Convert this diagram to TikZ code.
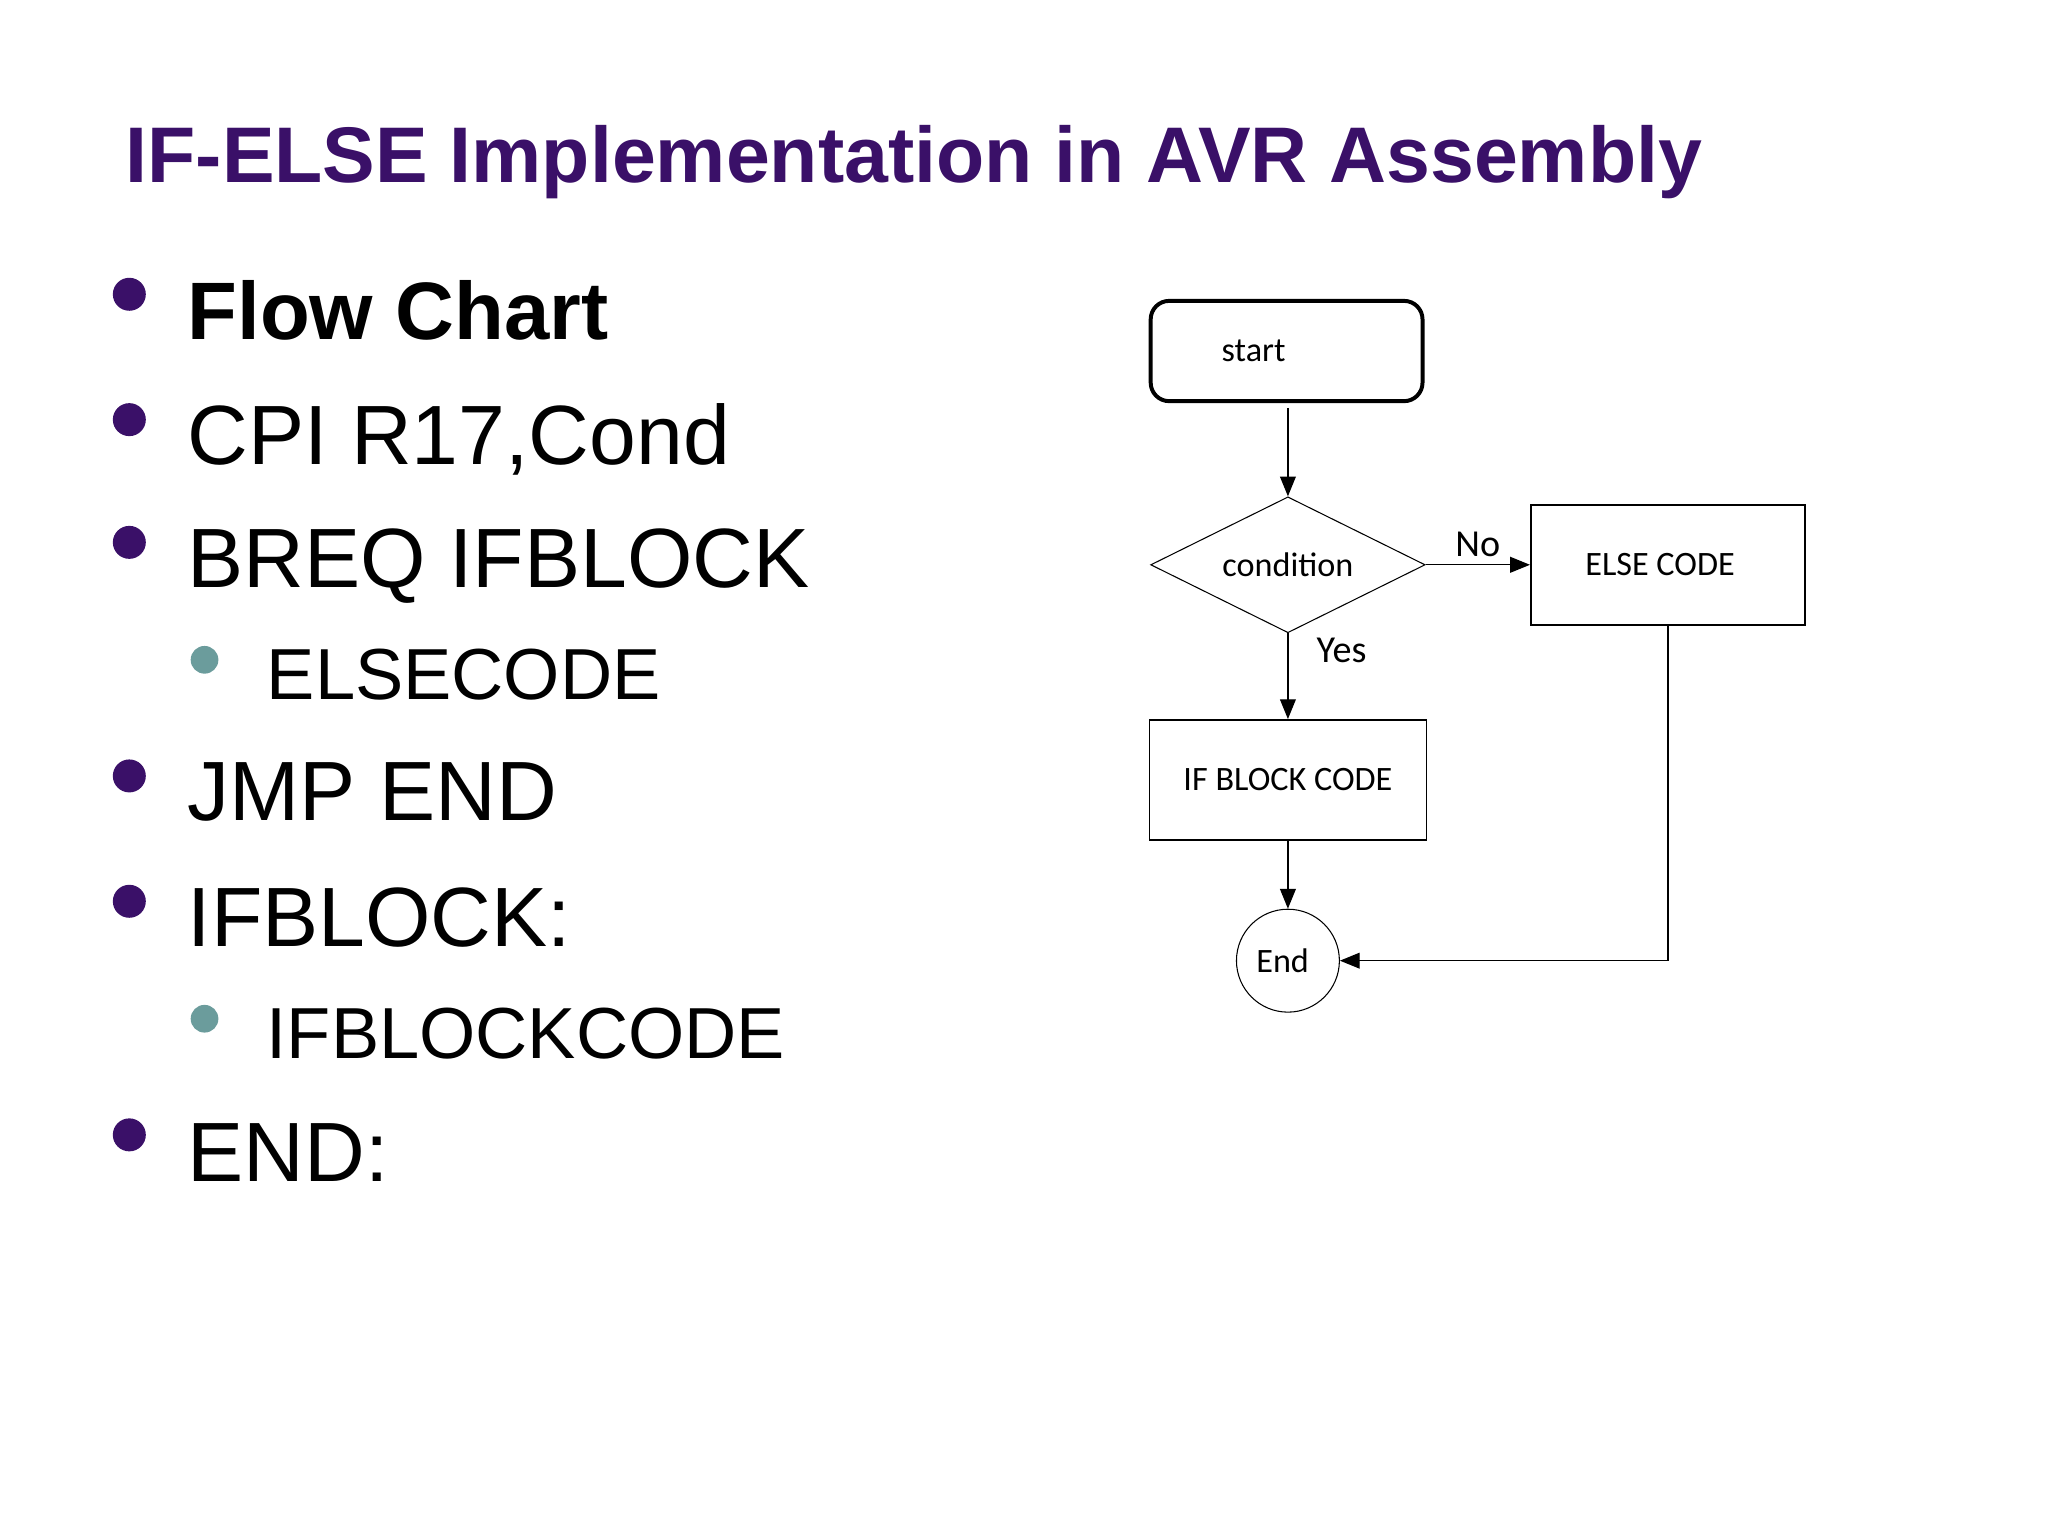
\documentclass[tikz,border=0pt]{standalone}
\usepackage{fontspec}
\setmainfont{Liberation Sans}
\newfontfamily\fc{Carlito}
\usetikzlibrary{shapes.geometric,arrows.meta}
\definecolor{ttl}{HTML}{3A1068}
\definecolor{sub}{HTML}{6B9C9C}
\begin{document}
\begin{tikzpicture}[x=1bp,y=-1bp,
  main/.style={anchor=base west,font=\fontsize{64}{70}\selectfont},
  subt/.style={anchor=base west,font=\fontsize{55}{60}\selectfont},
  dot/.style={fill=ttl,draw=none},
  sdot/.style={fill=sub,draw=none},
  fl/.style={font=\fc\fontsize{26}{28}\selectfont},
  box/.style={draw,line width=1.2bp,fl},
  arr/.style={-{Triangle[length=15bp,width=12bp]},line width=1bp}]
\useasboundingbox (0,0) rectangle (1552,1164);
\node[anchor=base west,text=ttl,font=\bfseries\fontsize{60}{64}\selectfont,inner sep=0pt] (title) at (95,138) {IF-ELSE Implementation in AVR Assembly};
\foreach \y in {223,318,411,588,683,860} \fill[dot] (98,\y) circle (12.5);
\foreach \y in {500,772} \fill[sdot] (155,\y) circle (10.5);
\node[main,inner sep=0pt,font=\bfseries\fontsize{62}{68}\selectfont] (t1) at (142,257) {Flow Chart};
\node[main,inner sep=0pt] (t2) at (142,352) {CPI R17,Cond};
\node[main,inner sep=0pt] (t3) at (142,445) {BREQ IFBLOCK};
\node[subt,inner sep=0pt] (t4) at (202,530) {ELSECODE};
\node[main,inner sep=0pt] (t5) at (142,622) {JMP END};
\node[main,inner sep=0pt] (t6) at (142,717) {IFBLOCK:};
\node[subt,inner sep=0pt] (t7) at (202,802) {IFBLOCKCODE};
\node[main,inner sep=0pt] (t8) at (142,895) {END:};
% flowchart
\node[box,line width=3bp,rounded corners=14bp,minimum width=206bp,minimum height=76bp,inner sep=0pt] (start) at (975,266) {\hspace*{-50bp}start};
\node[draw,diamond,aspect=2,fl,minimum width=208bp,minimum height=103bp,inner sep=0pt,line width=0.8bp] (cond) at (976,428) {condition};
\node[box,minimum width=208bp,minimum height=91bp,inner sep=0pt] (else) at (1264,428) {\hspace*{-12bp}ELSE CODE};
\node[box,minimum width=210bp,minimum height=91bp,inner sep=0pt] (ifb) at (976,591) {IF BLOCK CODE};
\node[draw,circle,fl,minimum size=78bp,inner sep=0pt,line width=0.8bp] (end) at (976,728) {\hspace*{-8bp}End};
\coordinate (s1) at (976,309);
\draw[arr] (s1) -- (cond.north);
\draw[arr] (cond.south) -- (ifb.north) node[pos=0.2,right=18bp,fl,font=\fc\fontsize{29}{30}\selectfont] {Yes};
\draw[arr] (cond.east) -- (else.west) node[midway,above=2bp,fl,font=\fc\fontsize{29}{30}\selectfont] {No};
\draw[arr] (ifb.south) -- (end.north);
\draw[arr] (else.south) |- (end.east);
\end{tikzpicture}
\end{document}
